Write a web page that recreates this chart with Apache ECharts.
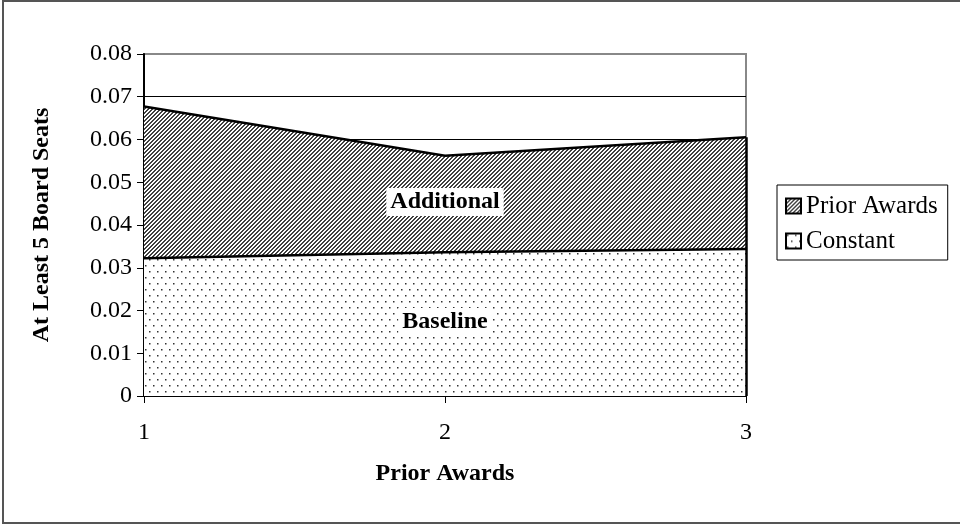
<!DOCTYPE html>
<html><head><meta charset="utf-8">
<script src="https://cdn.jsdelivr.net/npm/echarts@6/dist/echarts.min.js"></script>
<style>html,body{margin:0;padding:0;background:#fff}#c{width:960px;height:524px}</style>
</head><body><div id="c"></div>
<script>
const categories = ['1', '2', '3'];
const constantValues = [0.0322, 0.0336, 0.0344];
const priorAwardsValues = [0.0355, 0.0226, 0.0261];
const seriesNames = ['Prior Awards', 'Constant'];
const areaLabels = ['Additional', 'Baseline'];
const xAxisName = 'Prior Awards';
const yAxisName = 'At Least 5 Board Seats';

function hatchCanvas() {
  const c = document.createElement('canvas'); c.width = 8; c.height = 8;
  const g = c.getContext('2d');
  g.fillStyle = '#fff'; g.fillRect(0, 0, 8, 8);
  g.fillStyle = '#404040';
  for (let x = 0; x < 8; x++) for (let y = 0; y < 8; y++) if (((x + y) % 4) < 2) g.fillRect(x, y, 1, 1);
  return c;
}
function dotCanvas() {
  const c = document.createElement('canvas'); c.width = 8; c.height = 12;
  const g = c.getContext('2d');
  g.fillStyle = '#fff'; g.fillRect(0, 0, 8, 12);
  g.fillStyle = '#333';
  g.fillRect(1, 1, 1.5, 1.5); g.fillRect(5, 7, 1.5, 1.5);
  return c;
}
const hatch = { image: hatchCanvas(), repeat: 'repeat' };
const dots = { image: dotCanvas(), repeat: 'repeat' };
const FONT = 'Liberation Serif';
const last = categories.length - 1;
const topAtLast = constantValues[last] + priorAwardsValues[last];

const chart = echarts.init(document.getElementById('c'), null, { renderer: 'canvas' });
chart.setOption({
  backgroundColor: '#fff',
  animation: false,
  graphic: [{ type: 'rect', shape: { x: 3, y: 1, width: 960, height: 522 }, style: { fill: 'none', stroke: '#555', lineWidth: 2 }, z: 100 }],
  grid: { left: 144, right: 214, top: 54, bottom: 128, show: true, backgroundColor: '#fff', borderColor: '#888', borderWidth: 2 },
  legend: {
    orient: 'vertical', left: 777, top: 185, icon: 'rect', itemWidth: 15, itemHeight: 15, itemGap: 9,
    padding: [8, 10, 6, 8], borderColor: '#000', borderWidth: 1, backgroundColor: '#fff',
    textStyle: { fontFamily: FONT, fontSize: 25, color: '#000', lineHeight: 26 },
    data: [
      { name: seriesNames[0], itemStyle: { color: hatch, borderColor: '#000', borderWidth: 2 } },
      { name: seriesNames[1], itemStyle: { color: dots, borderColor: '#000', borderWidth: 2 } }
    ]
  },
  xAxis: {
    type: 'category', data: categories, boundaryGap: false,
    name: xAxisName, nameLocation: 'middle', nameGap: 66,
    nameTextStyle: { fontFamily: FONT, fontSize: 24, fontWeight: 'bold', color: '#000' },
    axisLine: { lineStyle: { color: '#000', width: 2 } },
    axisTick: { show: true, length: 7, lineStyle: { color: '#000', width: 1 } },
    axisLabel: { fontFamily: FONT, fontSize: 24, color: '#000', margin: 25 },
    splitLine: { show: false }
  },
  yAxis: {
    type: 'value', min: 0, max: 0.08, interval: 0.01,
    name: yAxisName, nameLocation: 'middle', nameGap: 90, nameRotate: 90,
    nameTextStyle: { fontFamily: FONT, fontSize: 24, fontWeight: 'bold', color: '#000' },
    axisLine: { show: true, lineStyle: { color: '#000', width: 2 } },
    axisTick: { show: true, length: 7, lineStyle: { color: '#000', width: 1 } },
    axisLabel: { fontFamily: FONT, fontSize: 24, color: '#000', margin: 12 },
    splitLine: { show: true, lineStyle: { color: ['#000', '#000', '#000', '#000', '#000', '#000', '#000', '#000', '#888'], width: 1 } }
  },
  series: [
    {
      name: seriesNames[1], type: 'line', stack: 'total', data: constantValues,
      symbol: 'none', showSymbol: false,
      lineStyle: { color: '#000', width: 2.5 },
      itemStyle: { color: '#000' },
      areaStyle: { color: dots, opacity: 1 },
      markPoint: {
        symbol: 'rect', symbolSize: 0,
        label: { show: true, formatter: areaLabels[1], fontFamily: FONT, fontSize: 24, fontWeight: 'bold', color: '#000', backgroundColor: '#fff', padding: [2, 4], position: 'inside' },
        data: [{ coord: [1, 0.0173] }]
      }
    },
    {
      name: seriesNames[0], type: 'line', stack: 'total', data: priorAwardsValues,
      symbol: 'none', showSymbol: false,
      lineStyle: { color: '#000', width: 2.5 },
      itemStyle: { color: '#000' },
      areaStyle: { color: hatch, opacity: 1 },
      markPoint: {
        symbol: 'rect', symbolSize: 0,
        label: { show: true, formatter: areaLabels[0], fontFamily: FONT, fontSize: 24, fontWeight: 'bold', color: '#000', backgroundColor: '#fff', padding: [2, 4], position: 'inside' },
        data: [{ coord: [1, 0.0454] }]
      },
      markLine: {
        symbol: 'none', silent: true, label: { show: false },
        lineStyle: { color: '#000', width: 2.5, type: 'solid' },
        data: [[{ coord: [last, 0] }, { coord: [last, topAtLast] }]]
      }
    }
  ]
});
</script>
</body></html>
